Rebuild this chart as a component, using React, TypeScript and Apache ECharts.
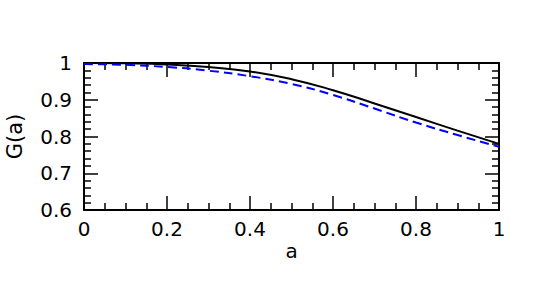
import React, { useEffect, useRef } from "react";
import * as echarts from "echarts";

const aValues = [0, 0.1, 0.2, 0.3, 0.4, 0.5, 0.6, 0.7, 0.8, 0.9, 1.0];
const solidValues = [1.0, 0.999, 0.996, 0.989, 0.977, 0.956, 0.926, 0.89, 0.853, 0.816, 0.78];
const dashedValues = [0.997, 0.995, 0.989, 0.979, 0.964, 0.943, 0.913, 0.876, 0.838, 0.804, 0.772];

const FONT = "DejaVu Sans";

function makeX(top: boolean) {
  return {
    type: "value",
    position: top ? "top" : "bottom",
    min: 0,
    max: 1,
    interval: 0.2,
    name: top ? "" : "a",
    nameLocation: "middle",
    nameGap: 31,
    nameTextStyle: { fontFamily: FONT, fontSize: 20, color: "#000" },
    axisLine: { show: true, onZero: false, lineStyle: { color: "#000", width: 2 } },
    axisTick: { show: true, inside: true, length: 14, lineStyle: { color: "#000", width: 1.5 } },
    minorTick: { show: true, splitNumber: 4, length: 7, lineStyle: { color: "#000", width: 1.5 } },
    splitLine: { show: false },
    axisLabel: { show: !top, margin: 9, fontFamily: FONT, fontSize: 20, color: "#000" },
  };
}

function makeY(right: boolean) {
  return {
    type: "value",
    position: right ? "right" : "left",
    min: 0.6,
    max: 1,
    interval: 0.1,
    name: right ? "" : "G(a)",
    nameLocation: "middle",
    nameRotate: 90,
    nameGap: 59,
    nameTextStyle: { fontFamily: FONT, fontSize: 21, color: "#000" },
    axisLine: { show: true, onZero: false, lineStyle: { color: "#000", width: 2 } },
    axisTick: { show: true, inside: true, length: 14, lineStyle: { color: "#000", width: 1.5 } },
    minorTick: { show: true, splitNumber: 5, length: 7, lineStyle: { color: "#000", width: 1.5 } },
    splitLine: { show: false },
    axisLabel: { show: !right, margin: 12, fontFamily: FONT, fontSize: 20, color: "#000" },
  };
}

export default function App() {
  const ref = useRef<HTMLDivElement>(null);
  useEffect(() => {
    if (!ref.current) return;
    const chart = echarts.init(ref.current, undefined, { renderer: "svg" });
    chart.setOption({
      animation: false,
      backgroundColor: "#fff",
      grid: {
        left: 84,
        top: 63,
        width: 415,
        height: 147,
        containLabel: false,
        outerBoundsMode: "none",
      },
      xAxis: [makeX(false), makeX(true)],
      yAxis: [makeY(false), makeY(true)],
      series: [
        {
          type: "line",
          xAxisIndex: 0,
          yAxisIndex: 0,
          data: aValues.map((a, i) => [a, solidValues[i]]),
          smooth: 0.5,
          showSymbol: false,
          lineStyle: { color: "#000", width: 2 },
        },
        {
          type: "line",
          xAxisIndex: 0,
          yAxisIndex: 0,
          data: aValues.map((a, i) => [a, dashedValues[i]]),
          smooth: 0.5,
          showSymbol: false,
          lineStyle: { color: "#0000ff", width: 2, type: [9, 5] },
        },
      ],
    });
    return () => chart.dispose();
  }, []);
  return (
    <div
      ref={ref}
      style={{ position: "fixed", left: 0, top: 0, width: 545, height: 302 }}
    />
  );
}
